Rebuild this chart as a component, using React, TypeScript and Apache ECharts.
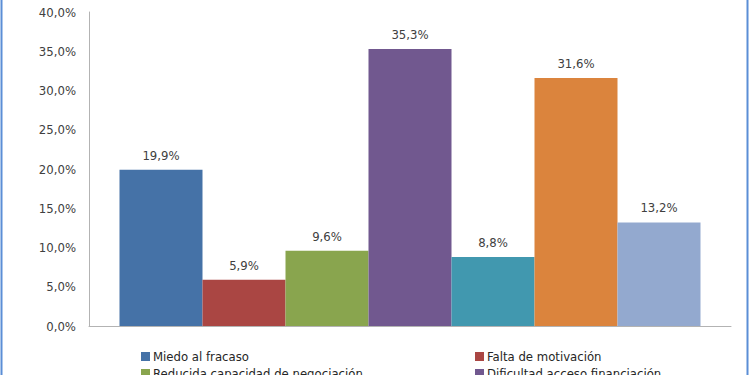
import React, { useEffect, useRef } from "react";
import * as echarts from "echarts";

const seriesNames = [
  "Miedo al fracaso",
  "Falta de motivación",
  "Reducida capacidad de negociación",
  "Dificultad acceso financiación",
  "Falta de formación",
  "Situación económica",
  "Otros",
];
const values = [19.9, 5.9, 9.6, 35.3, 8.8, 31.6, 13.2];
const colors = ["#4572A7", "#AA4643", "#89A54E", "#71588F", "#4198AF", "#DB843D", "#93A9CF"];
const categories = [""];
const legendLayout = [
  { idx: 0, left: 141, top: 350 },
  { idx: 1, left: 475, top: 350 },
  { idx: 2, left: 141, top: 367 },
  { idx: 3, left: 475, top: 367 },
];

const FONT = "'Liberation Sans Narrow', 'DejaVu Sans Condensed', sans-serif";
const fmt = (v: number) => v.toFixed(1).replace(".", ",") + "%";

export default function App() {
  const ref = useRef<HTMLDivElement>(null);
  useEffect(() => {
    if (!ref.current) return;
    const chart = echarts.init(ref.current, undefined, { renderer: "svg" });
    chart.setOption({
      animation: false,
      backgroundColor: "#ffffff",
      textStyle: { fontFamily: FONT },
      grid: { left: 89, right: 19, top: 12, bottom: 49, containLabel: false },
      legend: legendLayout.map((l) => ({
        data: [seriesNames[l.idx]],
        left: l.left,
        top: l.top,
        orient: "horizontal",
        icon: "rect",
        itemWidth: 9,
        itemHeight: 9,
        itemGap: 4,
        padding: 0,
        selectedMode: false,
        textStyle: { fontFamily: FONT, fontSize: 13, color: "#262626", padding: [0, 0, 0, -2] },
      })),
      xAxis: {
        type: "category",
        data: categories,
        axisLine: { lineStyle: { color: "#B3B3B3", width: 1 } },
        axisTick: { show: false },
        axisLabel: { show: false },
      },
      yAxis: {
        type: "value",
        min: 0,
        max: 40,
        interval: 5,
        axisLine: { show: true, lineStyle: { color: "#B3B3B3", width: 1 } },
        axisTick: { show: false },
        splitLine: { show: false },
        axisLabel: {
          formatter: (v: number) => fmt(v),
          fontFamily: FONT,
          fontSize: 13,
          color: "#404040",
          margin: 13,
        },
      },
      series: seriesNames.map((name, i) => ({
        name,
        type: "bar",
        data: [values[i]],
        barGap: "0%",
        barCategoryGap: "9.5%",
        itemStyle: { color: colors[i] },
        label: {
          show: true,
          position: "top",
          distance: 8,
          formatter: (p: any) => fmt(p.value),
          fontFamily: FONT,
          fontSize: 13,
          color: "#404040",
        },
      })),
      graphic: [
        { type: "line", shape: { x1: 1.5, y1: 0, x2: 1.5, y2: 375 }, style: { stroke: "#5B8ED6", lineWidth: 2 } },
        { type: "line", shape: { x1: 747.5, y1: 0, x2: 747.5, y2: 375 }, style: { stroke: "#5B8ED6", lineWidth: 2 } },
      ],
    });
    return () => chart.dispose();
  }, []);
  return (
    <div
      ref={ref}
      style={{ position: "fixed", left: 0, top: 0, width: 750, height: 375 }}
    />
  );
}
